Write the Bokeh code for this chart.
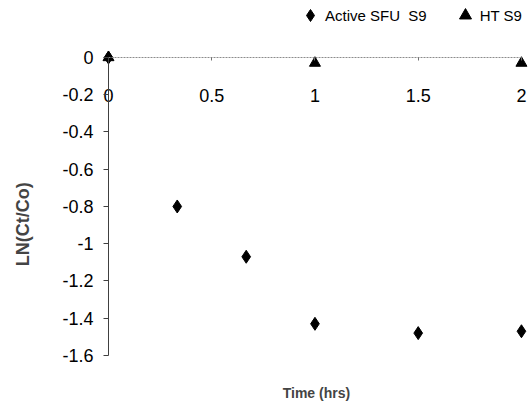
from math import pi

from bokeh.embed import file_html
from bokeh.models import ColumnDataSource, FixedTicker, Label, Legend, LegendItem
from bokeh.plotting import figure
from bokeh.resources import INLINE

# Elapsed time (hrs) and LN(Ct/Co) for each series
active_time = [0, 0.333, 0.667, 1, 1.5, 2]
active_ln = [0, -0.80, -1.07, -1.43, -1.48, -1.47]
ht_time = [0, 1, 2]
ht_ln = [0, -0.03, -0.03]

# Axis ticks and their labels
x_ticks = [0, 0.5, 1, 1.5, 2]
x_tick_labels = ["0", "0.5", "1", "1.5", "2"]
y_ticks = [0, -0.2, -0.4, -0.6, -0.8, -1.0, -1.2, -1.4, -1.6]
y_tick_labels = ["0", "-0.2", "-0.4", "-0.6", "-0.8", "-1", "-1.2", "-1.4", "-1.6"]

FONT = "'Liberation Sans', Arial, sans-serif"

# the frame covers the whole canvas; axes are pinned at x = 0 and y = 0
p = figure(
    width=529, height=406,
    x_range=(-0.523, 2.039), y_range=(-1.874, 0.306),
    output_backend="svg", toolbar_location=None,
    min_border=0,
    background_fill_color="white", border_fill_color="white",
)
p.outline_line_color = None
p.grid.visible = False

# x axis runs along y = 0 as a dotted line, labels sit well below it
xa = p.xaxis[0]
xa.fixed_location = 0
xa.bounds = (0, 2)
xa.ticker = FixedTicker(ticks=x_ticks)
xa.major_label_overrides = dict(zip(x_ticks, x_tick_labels))
xa.axis_line_color = "#8c8c8c"
xa.axis_line_dash = "2 1"
xa.axis_line_width = 1.2
xa.major_tick_in = 0
xa.major_tick_out = 3
xa.major_tick_line_color = "#707070"
xa.minor_tick_line_color = None
xa.major_label_standoff = 29
xa.major_label_text_font = FONT
xa.major_label_text_font_size = "18px"
xa.major_label_text_color = "black"

# y axis at x = 0, spanning 0 .. -1.6
ya = p.yaxis[0]
ya.fixed_location = 0
ya.bounds = (-1.6, 0)
ya.ticker = FixedTicker(ticks=y_ticks)
ya.major_label_overrides = dict(zip(y_ticks, y_tick_labels))
ya.axis_line_color = "#404040"
ya.axis_line_width = 1
ya.major_tick_in = 0
ya.major_tick_out = 5
ya.major_tick_line_color = "#404040"
ya.minor_tick_line_color = None
ya.major_label_standoff = 10
ya.major_label_text_font = FONT
ya.major_label_text_font_size = "18px"
ya.major_label_text_color = "black"

active_src = ColumnDataSource(dict(t=active_time, v=active_ln))
ht_src = ColumnDataSource(dict(t=ht_time, v=ht_ln))

r_active = p.scatter("t", "v", source=active_src, marker="diamond", size=13,
                     fill_color="black", line_color="black")
r_ht = p.scatter("t", "v", source=ht_src, marker="triangle", size=11,
                 fill_color="black", line_color="black")

# large glyph boxes so the legend markers come out full size
legend = Legend(
    items=[LegendItem(label="Active SFU  S9", renderers=[r_active]),
           LegendItem(label="HT S9", renderers=[r_ht])],
    orientation="horizontal", location=(295, 376),
    label_text_font=FONT, label_text_font_size="15px",
    label_text_color="black",
    glyph_width=30, glyph_height=30, label_standoff=0, spacing=23,
    padding=0, margin=0, border_line_color=None, background_fill_alpha=0,
)
p.add_layout(legend, "center")

# axis titles
p.add_layout(Label(x=1.007, y=-1.80, text="Time (hrs)", text_font=FONT,
                   text_font_size="14px", text_font_style="bold",
                   text_align="center", text_baseline="middle"))
p.add_layout(Label(x=-0.412, y=-0.896, text="LN(Ct/Co)", angle=pi / 2,
                   text_font=FONT, text_font_size="18px",
                   text_font_style="bold", text_align="center",
                   text_baseline="middle"))

open("out.html", "w").write(file_html(p, INLINE))
